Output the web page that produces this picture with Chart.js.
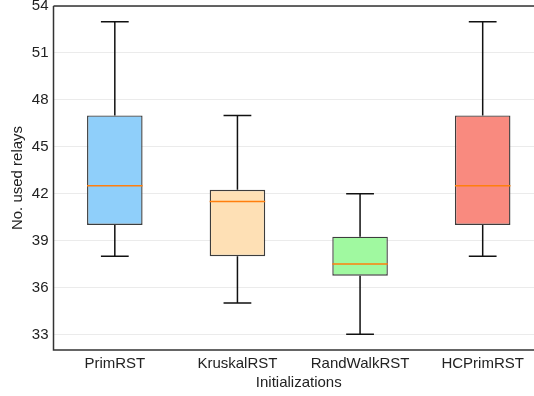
<!DOCTYPE html>
<html>
<head>
<meta charset="utf-8">
<script src="https://cdn.jsdelivr.net/npm/chart.js@4"></script>
<style>
  html, body { margin: 0; padding: 0; background: #fff; overflow: hidden; }
  #wrap { width: 548px; height: 396px; }
</style>
</head>
<body>
<div id="wrap"><canvas id="boxChart"></canvas></div>
<script>
// box plot values
var categories = ['PrimRST', 'KruskalRST', 'RandWalkRST', 'HCPrimRST'];
var whiskerLow = [38, 35, 33, 38];
var q1 = [40, 38, 36.75, 40];
var median = [42.5, 41.5, 37.5, 42.5];
var q3 = [47, 42.25, 39.25, 47];
var whiskerHigh = [53, 47, 42, 53];
var yTicks = [33, 36, 39, 42, 45, 48, 51, 54];
var boxColors = ['#8fcffa', '#fee0b5', '#a0f9a0', '#f98a7f'];

var textColor = '#222';
var font = { family: 'Liberation Sans, Arial, sans-serif', size: 15 };

// whiskers, caps, medians and spines
var boxExtras = {
    id: 'boxExtras',
    afterDatasetsDraw: function (chart) {
        var ctx = chart.ctx;
        var y = chart.scales.y;
        var meta = chart.getDatasetMeta(0);
        ctx.save();
        meta.data.forEach(function (bar, i) {
            var x = bar.x;
            var w = bar.width;
            ctx.strokeStyle = '#111';
            ctx.lineWidth = 1.5;
            ctx.beginPath();
            ctx.moveTo(x, y.getPixelForValue(q3[i]));
            ctx.lineTo(x, y.getPixelForValue(whiskerHigh[i]));
            ctx.moveTo(x, y.getPixelForValue(q1[i]));
            ctx.lineTo(x, y.getPixelForValue(whiskerLow[i]));
            ctx.moveTo(x - w / 4, y.getPixelForValue(whiskerHigh[i]));
            ctx.lineTo(x + w / 4, y.getPixelForValue(whiskerHigh[i]));
            ctx.moveTo(x - w / 4, y.getPixelForValue(whiskerLow[i]));
            ctx.lineTo(x + w / 4, y.getPixelForValue(whiskerLow[i]));
            ctx.stroke();
            ctx.strokeStyle = '#ff7f0e';
            ctx.lineWidth = 1.5;
            ctx.beginPath();
            ctx.moveTo(x - w / 2, y.getPixelForValue(median[i]));
            ctx.lineTo(x + w / 2, y.getPixelForValue(median[i]));
            ctx.stroke();
        });
        var a = chart.chartArea;
        ctx.strokeStyle = '#333';
        ctx.lineWidth = 1.5;
        ctx.beginPath();
        ctx.moveTo(a.left, a.top);
        ctx.lineTo(a.right, a.top);
        ctx.moveTo(a.left, a.top);
        ctx.lineTo(a.left, a.bottom);
        ctx.lineTo(a.right, a.bottom);
        ctx.stroke();
        ctx.restore();
    }
};

var boxes = categories.map(function (c, i) { return [q1[i], q3[i]]; });

new Chart(document.getElementById('boxChart'), {
    type: 'bar',
    data: {
        labels: categories,
        datasets: [{
            data: boxes,
            backgroundColor: boxColors,
            borderColor: '#3d3d3d',
            borderWidth: 1.4,
            borderSkipped: false,
            categoryPercentage: 1,
            barPercentage: 0.453
        }]
    },
    options: {
        responsive: true,
        maintainAspectRatio: false,
        animation: false,
        layout: { padding: { top: 6, right: 4, left: 0, bottom: 0 } },
        plugins: { legend: { display: false }, tooltip: { enabled: false } },
        scales: {
            x: {
                grid: { display: false, drawTicks: false },
                border: { display: false },
                ticks: { color: textColor, font: font, padding: 5, maxRotation: 0 },
                title: { display: true, text: 'Initializations', color: textColor, font: font, padding: { top: 0, bottom: 4 } },
                afterFit: function (s) { s.height = 46; }
            },
            y: {
                min: 32,
                max: 54,
                grid: { color: '#ebebeb', lineWidth: 1, drawTicks: false },
                border: { display: false },
                ticks: { color: textColor, font: font, padding: 5 },
                afterBuildTicks: function (s) { s.ticks = yTicks.map(function (v) { return { value: v }; }); },
                title: { display: true, text: 'No. used relays', color: textColor, font: font, padding: { top: 9, bottom: 0 } },
                afterFit: function (s) { s.width = 53.5; s.paddingTop = 0; s.paddingBottom = 0; }
            }
        }
    },
    plugins: [boxExtras]
});
</script>
</body>
</html>
